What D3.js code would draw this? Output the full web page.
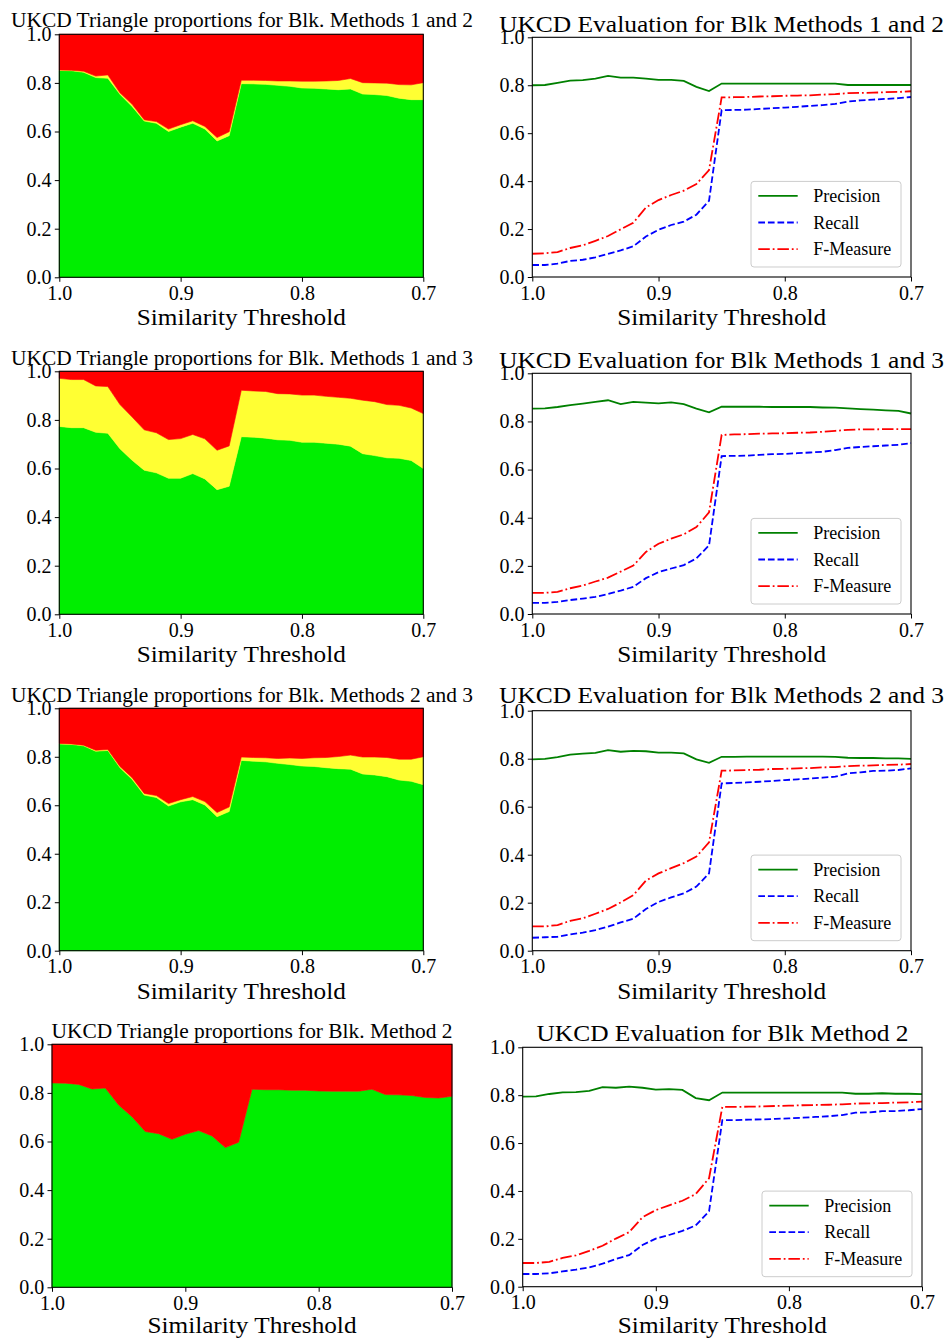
<!DOCTYPE html>
<html><head><meta charset="utf-8">
<script src="https://cdn.jsdelivr.net/npm/d3@7"></script>
<style>
body{margin:0;background:#fff}
svg{display:block}
text{font-family:"Liberation Serif","DejaVu Serif",serif;fill:#000}
</style>
</head><body>
<svg id="chart" width="946" height="1339"></svg>
<script>
// ---------------- DATA ----------------
const thresholds = [1.00,0.99,0.98,0.97,0.96,0.95,0.94,0.93,0.92,0.91,0.90,0.89,0.88,0.87,0.86,0.85,0.84,0.83,0.82,0.81,0.80,0.79,0.78,0.77,0.76,0.75,0.74,0.73,0.72,0.71,0.70];
const xTickValues = [1.0, 0.9, 0.8, 0.7];
const yTickValues = [0.0, 0.2, 0.4, 0.6, 0.8, 1.0];
const xAxisLabel = "Similarity Threshold";
const legendLabels = ["Precision", "Recall", "F-Measure"];
const areaTitles = [
  "UKCD Triangle proportions for Blk. Methods 1 and 2",
  "UKCD Triangle proportions for Blk. Methods 1 and 3",
  "UKCD Triangle proportions for Blk. Methods 2 and 3",
  "UKCD Triangle proportions for Blk. Method 2"
];
const evalTitles = [
  "UKCD Evaluation for Blk Methods 1 and 2",
  "UKCD Evaluation for Blk Methods 1 and 3",
  "UKCD Evaluation for Blk Methods 2 and 3",
  "UKCD Evaluation for Blk Method 2"
];

// Triangle proportions (green / yellow / red)
const m12Green  = [0.851,0.850,0.844,0.822,0.819,0.753,0.703,0.643,0.634,0.600,0.618,0.634,0.610,0.561,0.583,0.797,0.796,0.794,0.790,0.786,0.779,0.778,0.775,0.772,0.775,0.754,0.752,0.748,0.737,0.731,0.731];
const m12Yellow = [0.002,0.002,0.004,0.006,0.014,0.006,0.009,0.005,0.007,0.010,0.010,0.010,0.011,0.014,0.016,0.014,0.015,0.016,0.018,0.022,0.028,0.029,0.033,0.038,0.043,0.047,0.048,0.051,0.056,0.061,0.070];
const m12Red    = [0.147,0.148,0.152,0.172,0.167,0.241,0.288,0.352,0.359,0.390,0.372,0.356,0.379,0.425,0.401,0.189,0.189,0.190,0.192,0.192,0.193,0.193,0.192,0.190,0.182,0.199,0.200,0.201,0.207,0.208,0.199];

const m13Green  = [0.773,0.768,0.768,0.749,0.745,0.681,0.634,0.593,0.582,0.560,0.560,0.579,0.557,0.513,0.527,0.731,0.729,0.725,0.718,0.716,0.708,0.708,0.704,0.700,0.692,0.661,0.653,0.644,0.642,0.633,0.600];
const m13Yellow = [0.198,0.198,0.198,0.191,0.192,0.182,0.178,0.166,0.165,0.159,0.163,0.161,0.165,0.162,0.166,0.191,0.190,0.192,0.190,0.191,0.194,0.194,0.193,0.193,0.197,0.220,0.222,0.219,0.218,0.216,0.226];
const m13Red    = [0.029,0.034,0.034,0.060,0.063,0.137,0.188,0.241,0.253,0.281,0.277,0.260,0.278,0.325,0.307,0.078,0.081,0.083,0.092,0.093,0.098,0.098,0.103,0.107,0.111,0.119,0.125,0.137,0.140,0.151,0.174];

const m23Green  = [0.853,0.851,0.845,0.823,0.826,0.755,0.707,0.642,0.632,0.597,0.614,0.623,0.601,0.553,0.574,0.785,0.782,0.779,0.773,0.768,0.762,0.760,0.755,0.751,0.749,0.729,0.725,0.718,0.704,0.699,0.685];
const m23Yellow = [0.002,0.002,0.003,0.004,0.004,0.005,0.007,0.007,0.008,0.010,0.009,0.013,0.014,0.017,0.019,0.014,0.015,0.017,0.020,0.027,0.031,0.036,0.042,0.050,0.058,0.070,0.074,0.079,0.086,0.091,0.115];
const m23Red    = [0.145,0.147,0.152,0.173,0.170,0.240,0.286,0.351,0.360,0.393,0.377,0.364,0.385,0.430,0.407,0.201,0.203,0.204,0.207,0.205,0.207,0.204,0.203,0.199,0.193,0.201,0.201,0.203,0.210,0.210,0.200];

const m2Green   = [0.841,0.840,0.835,0.816,0.820,0.750,0.702,0.641,0.632,0.609,0.630,0.645,0.623,0.575,0.597,0.815,0.813,0.813,0.811,0.811,0.808,0.807,0.807,0.807,0.815,0.793,0.792,0.789,0.781,0.779,0.786];
const m2Red     = [0.159,0.160,0.165,0.184,0.180,0.250,0.298,0.359,0.368,0.391,0.370,0.355,0.377,0.425,0.403,0.185,0.187,0.187,0.189,0.189,0.192,0.193,0.193,0.193,0.185,0.207,0.208,0.211,0.219,0.221,0.214];

// Evaluation (precision / recall / F-measure)
const e12Precision = [0.800,0.801,0.810,0.819,0.821,0.828,0.839,0.832,0.832,0.828,0.822,0.822,0.818,0.793,0.776,0.807,0.807,0.807,0.807,0.807,0.807,0.807,0.807,0.807,0.807,0.801,0.801,0.801,0.801,0.801,0.801];
const e12Recall    = [0.050,0.050,0.056,0.067,0.072,0.082,0.096,0.111,0.128,0.169,0.197,0.217,0.231,0.260,0.318,0.696,0.697,0.698,0.701,0.704,0.707,0.710,0.714,0.717,0.722,0.732,0.737,0.740,0.743,0.746,0.751];
const e12FMeasure  = [0.097,0.099,0.104,0.121,0.132,0.151,0.171,0.199,0.226,0.290,0.321,0.342,0.360,0.388,0.446,0.749,0.750,0.751,0.753,0.754,0.756,0.757,0.758,0.761,0.763,0.767,0.768,0.769,0.771,0.772,0.775];

const e13Precision = [0.853,0.854,0.860,0.868,0.874,0.881,0.888,0.872,0.881,0.878,0.875,0.879,0.872,0.853,0.838,0.861,0.861,0.861,0.861,0.860,0.860,0.860,0.860,0.858,0.857,0.854,0.851,0.849,0.846,0.844,0.833];
const e13Recall    = [0.046,0.046,0.050,0.058,0.064,0.071,0.083,0.097,0.113,0.149,0.174,0.189,0.203,0.231,0.285,0.656,0.657,0.658,0.661,0.664,0.665,0.668,0.671,0.674,0.681,0.690,0.694,0.697,0.700,0.703,0.710];
const e13FMeasure  = [0.088,0.088,0.092,0.107,0.118,0.135,0.151,0.176,0.201,0.258,0.292,0.313,0.331,0.361,0.422,0.744,0.746,0.747,0.749,0.750,0.751,0.753,0.754,0.757,0.761,0.765,0.767,0.767,0.768,0.768,0.768];

const e23Precision = [0.797,0.799,0.807,0.817,0.821,0.824,0.836,0.829,0.833,0.831,0.825,0.825,0.822,0.797,0.783,0.808,0.808,0.809,0.809,0.809,0.809,0.809,0.809,0.809,0.808,0.804,0.803,0.803,0.801,0.801,0.799];
const e23Recall    = [0.054,0.056,0.058,0.068,0.075,0.086,0.100,0.118,0.133,0.174,0.203,0.222,0.239,0.267,0.322,0.697,0.699,0.701,0.704,0.707,0.711,0.714,0.717,0.721,0.725,0.739,0.743,0.749,0.750,0.753,0.760];
const e23FMeasure  = [0.101,0.101,0.107,0.124,0.135,0.154,0.174,0.201,0.231,0.292,0.322,0.344,0.365,0.392,0.451,0.750,0.751,0.753,0.754,0.757,0.758,0.760,0.761,0.764,0.765,0.769,0.771,0.772,0.774,0.775,0.778];

const e2Precision  = [0.794,0.795,0.805,0.812,0.813,0.818,0.834,0.831,0.836,0.831,0.823,0.825,0.822,0.788,0.779,0.811,0.811,0.811,0.811,0.811,0.811,0.811,0.811,0.811,0.811,0.806,0.806,0.808,0.806,0.806,0.804];
const e2Recall     = [0.053,0.053,0.056,0.064,0.071,0.081,0.096,0.116,0.132,0.174,0.201,0.216,0.233,0.256,0.315,0.696,0.696,0.698,0.699,0.701,0.703,0.706,0.709,0.712,0.717,0.727,0.728,0.733,0.734,0.737,0.742];
const e2FMeasure   = [0.099,0.099,0.104,0.120,0.131,0.150,0.171,0.201,0.228,0.290,0.320,0.340,0.359,0.387,0.453,0.751,0.751,0.752,0.753,0.755,0.756,0.758,0.759,0.760,0.762,0.765,0.766,0.767,0.769,0.770,0.773];

// ---------------- STYLE / LAYOUT ----------------
const GREEN = "#00ee00", YELLOW = "#ffff33", RED = "#ff0000";
const FONT = "Liberation Serif, DejaVu Serif, serif";
const svg = d3.select("#chart");
const fmt = d3.format(".1f");

const areaPanels = [
  {box:{x0:59.3,x1:423.3,y0:34.3,y1:277.3}, title:areaTitles[0], tb:26.7, tw:462, tcx:242,
   series:[{key:"g",values:m12Green,color:GREEN},{key:"y",values:m12Yellow,color:YELLOW},{key:"r",values:m12Red,color:RED}]},
  {box:{x0:59.3,x1:423.3,y0:371.3,y1:614.3}, title:areaTitles[1], tb:365, tw:462, tcx:242,
   series:[{key:"g",values:m13Green,color:GREEN},{key:"y",values:m13Yellow,color:YELLOW},{key:"r",values:m13Red,color:RED}]},
  {box:{x0:59.3,x1:423.3,y0:708.3,y1:950.7}, title:areaTitles[2], tb:701.7, tw:462, tcx:242,
   series:[{key:"g",values:m23Green,color:GREEN},{key:"y",values:m23Yellow,color:YELLOW},{key:"r",values:m23Red,color:RED}]},
  {box:{x0:52,x1:452,y0:1044.3,y1:1287.3}, title:areaTitles[3], tb:1038.3, tw:401, tcx:252, xlb:46,
   series:[{key:"g",values:m2Green,color:GREEN},{key:"r",values:m2Red,color:RED}]}
];

const LINE_STYLES = [
  {color:"#008000", dash:null},
  {color:"#0000ff", dash:"6.7,2.9"},
  {color:"#ff0000", dash:"11.5,2.9,1.8,2.9"}
];

const evalPanels = [
  {box:{x0:532.3,x1:911,y0:37.3,y1:277}, title:evalTitles[0], tb:31.7, tw:445, tcx:721.5,
   series:[e12Precision,e12Recall,e12FMeasure]},
  {box:{x0:532.3,x1:911,y0:373.3,y1:614}, title:evalTitles[1], tb:368.3, tw:445, tcx:721.5,
   series:[e13Precision,e13Recall,e13FMeasure]},
  {box:{x0:532.3,x1:911,y0:710.7,y1:950.7}, title:evalTitles[2], tb:703.3, tw:445, tcx:721.5,
   series:[e23Precision,e23Recall,e23FMeasure]},
  {box:{x0:522.7,x1:922,y0:1047.3,y1:1286.7}, title:evalTitles[3], tb:1041, tw:372, tcx:722.5, xlb:46.5,
   series:[e2Precision,e2Recall,e2FMeasure]}
];

function scales(b){
  return {
    x: d3.scaleLinear().domain([1.0,0.7]).range([b.x0,b.x1]),
    y: d3.scaleLinear().domain([0,1]).range([b.y1,b.y0])
  };
}

function decorate(p, x, y, titleSize){
  const b = p.box;
  const gx = svg.append("g").attr("transform",`translate(0,${b.y1})`)
    .call(d3.axisBottom(x).tickValues(xTickValues).tickFormat(fmt).tickSize(4.5).tickPadding(4));
  const gy = svg.append("g").attr("transform",`translate(${b.x0},0)`)
    .call(d3.axisLeft(y).tickValues(yTickValues).tickFormat(fmt).tickSize(4.5).tickPadding(3.2));
  [gx,gy].forEach(g=>{
    g.attr("font-family",FONT).attr("font-size",20);
    g.select(".domain").remove();
    g.selectAll(".tick line").attr("stroke","#000").attr("stroke-width",1);
    g.selectAll(".tick text").attr("fill","#000");
  });
  svg.append("rect").attr("x",b.x0).attr("y",b.y0)
    .attr("width",b.x1-b.x0).attr("height",b.y1-b.y0)
    .attr("fill","none").attr("stroke","#000").attr("stroke-width",1.1);
  svg.append("text").attr("x",p.tcx).attr("y",p.tb)
    .attr("text-anchor","middle").attr("font-size",titleSize)
    .attr("textLength",p.tw).attr("lengthAdjust","spacingAndGlyphs")
    .text(p.title);
  svg.append("text").attr("x",(b.x0+b.x1)/2).attr("y",b.y1+(p.xlb||48))
    .attr("text-anchor","middle").attr("font-size",24)
    .attr("textLength",209).attr("lengthAdjust","spacingAndGlyphs")
    .text(xAxisLabel);
}

// ---------------- AREA PANELS ----------------
areaPanels.forEach(p=>{
  const {x,y} = scales(p.box);
  const rows = thresholds.map((t,i)=>{
    const r = {t};
    p.series.forEach(s=>{ r[s.key] = s.values[i]; });
    return r;
  });
  const stacked = d3.stack().keys(p.series.map(s=>s.key))(rows);
  const area = d3.area().x(d=>x(d.data.t)).y0(d=>y(d[0])).y1(d=>y(d[1]));
  svg.append("g").selectAll("path").data(stacked).join("path")
    .attr("d",area)
    .attr("fill",(d,i)=>p.series[i].color)
    .attr("stroke",(d,i)=>p.series[i].color)
    .attr("stroke-width",0.6);
  decorate(p, x, y, 20);
});

// ---------------- EVALUATION PANELS ----------------
evalPanels.forEach(p=>{
  const {x,y} = scales(p.box);
  const line = d3.line().x((d,i)=>x(thresholds[i])).y(d=>y(d));
  const g = svg.append("g");
  p.series.forEach((vals,k)=>{
    g.append("path").datum(vals).attr("d",line)
      .attr("fill","none").attr("stroke",LINE_STYLES[k].color)
      .attr("stroke-width",1.8)
      .attr("stroke-dasharray",LINE_STYLES[k].dash);
  });
  decorate(p, x, y, 24);
  // legend
  const b = p.box;
  const lw = 150, lh = 85.6;
  const lx = b.x1 - 10 - lw, ly = b.y1 - 10 - lh;
  const lg = svg.append("g").attr("transform",`translate(${lx},${ly})`);
  lg.append("rect").attr("width",lw).attr("height",lh).attr("rx",3).attr("ry",3)
    .attr("fill","#fff").attr("fill-opacity",0.8).attr("stroke","#cccccc").attr("stroke-width",1);
  legendLabels.forEach((lab,k)=>{
    const yy = 14.5 + k*26.6;
    lg.append("line").attr("x1",7.3).attr("x2",46.7).attr("y1",yy).attr("y2",yy)
      .attr("stroke",LINE_STYLES[k].color).attr("stroke-width",1.8)
      .attr("stroke-dasharray",LINE_STYLES[k].dash);
    lg.append("text").attr("x",62.3).attr("y",yy).attr("dy","0.35em")
      .attr("font-size",18).text(lab);
  });
});
</script>
</body></html>
